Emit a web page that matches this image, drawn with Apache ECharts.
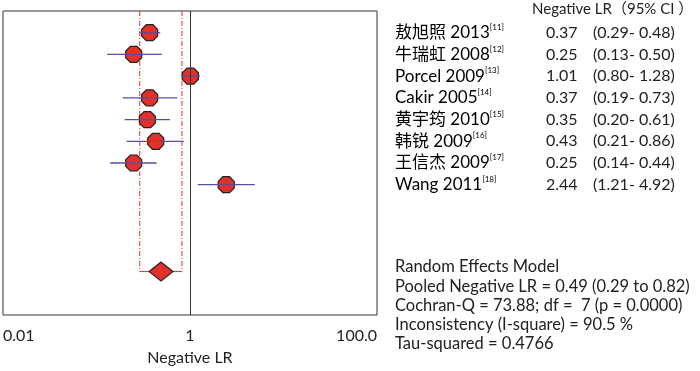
<!DOCTYPE html>
<html><head><meta charset="utf-8">
<script src="https://cdn.jsdelivr.net/npm/echarts@6/dist/echarts.min.js"></script>
<style>html,body{margin:0;padding:0;background:#fff}#c{width:700px;height:371px}</style>
</head><body><div id="c"></div>
<script>
const studies = ['敖旭照 2013','牛瑞虹 2008','Porcel 2009','Cakir 2005','黄宇筠 2010','韩锐 2009','王信杰 2009','Wang 2011'];
const refs = ['[11]','[12]','[13]','[14]','[15]','[16]','[17]','[18]'];
const lr = [0.37,0.25,1.01,0.37,0.35,0.43,0.25,2.44];
const lo = [0.29,0.13,0.80,0.19,0.20,0.21,0.14,1.21];
const hi = [0.48,0.50,1.28,0.73,0.61,0.86,0.44,4.92];
const pooled = 0.49, pooledLo = 0.29, pooledHi = 0.82;
const xTicks = {min:0.01, mid:1, max:100};
const xTickLabels = ['0.01','1','100.0'];
const header = 'Negative LR（95% CI ）';
const summary = ['Random Effects Model','Pooled Negative LR = 0.49 (0.29 to 0.82)','Cochran-Q = 73.88; df =  7 (p = 0.0000)','Inconsistency (I-square) = 90.5 %','Tau-squared = 0.4766'];

const FONT = 'Lato, "Noto Sans CJK SC", sans-serif';
const RED = '#e4302a', PURPLE = '#5b4c9f';
const rows = lr.map((v,i)=>i+1);
const pooledRow = 12;
const chart = echarts.init(document.getElementById('c'));
const octagon = 'path://M-0.414,-1L0.414,-1L1,-0.414L1,0.414L0.414,1L-0.414,1L-1,0.414L-1,-0.414Z';

function near(a,b){return Math.abs(Math.log10(a)-Math.log10(b))<1e-6;}

chart.setOption({
  animation:false,
  grid:{left:1,right:323,top:11,bottom:49,show:true,borderColor:'#333',borderWidth:1,backgroundColor:'transparent'},
  xAxis:{type:'log',logBase:10,min:xTicks.min,max:xTicks.max,
    axisLine:{show:false},axisTick:{show:false},splitLine:{show:false},
    axisLabel:{color:'#222',fontFamily:FONT,fontSize:16,margin:13,showMinLabel:true,showMaxLabel:true,
      alignMinLabel:'left',alignMaxLabel:'right',
      formatter:v=>near(v,xTicks.min)?xTickLabels[0]:near(v,xTicks.mid)?xTickLabels[1]:near(v,xTicks.max)?xTickLabels[2]:''},
    name:'Negative LR',nameLocation:'middle',nameGap:35,nameTextStyle:{color:'#222',fontFamily:FONT,fontSize:16}},
  yAxis:{type:'value',min:0,max:14,inverse:true,show:false},
  series:[
    {type:'scatter',data:lr.map((v,i)=>[v,rows[i]]),symbol:octagon,symbolSize:16,
      itemStyle:{color:RED,opacity:1,borderColor:'#222',borderWidth:1.2},z:3,
      markLine:{silent:true,symbol:'none',label:{show:false},lineStyle:{color:'#333',type:'solid',width:1},data:[{xAxis:1}]}},
    {type:'custom',z:4,data:lo.map((v,i)=>[lo[i],hi[i],rows[i]]),
      renderItem:(p,api)=>{const a=api.coord([api.value(0),api.value(2)]),b=api.coord([api.value(1),api.value(2)]);
        return {type:'line',shape:{x1:a[0],y1:a[1],x2:b[0],y2:b[1]},style:{stroke:PURPLE,lineWidth:1.3}};}},
    {type:'line',z:2,symbol:'none',data:[[pooledLo,0],[pooledLo,pooledRow]],lineStyle:{color:RED,width:1,type:[5,2,1,2]}},
    {type:'line',z:2,symbol:'none',data:[[pooledHi,0],[pooledHi,pooledRow]],lineStyle:{color:RED,width:1,type:[5,2,1,2]}},
    {type:'line',z:2,symbol:'none',data:[[pooledLo,pooledRow],[pooledHi,pooledRow]],lineStyle:{color:RED,width:1}},
    {type:'scatter',z:5,data:[[pooled,pooledRow]],symbol:'diamond',symbolSize:[24,19],itemStyle:{color:RED,opacity:1,borderColor:'#222',borderWidth:1.2}}
  ]
});

const g=[];
const ts={fill:'#222',fontFamily:FONT,fontSize:16};
g.push({type:'text',left:532,top:2,style:Object.assign({},ts,{text:header,fontSize:15})});
rows.forEach((r,i)=>{
  const y=chart.convertToPixel({gridIndex:0},[1,r])[1];
  g.push({type:'text',x:395,y:y,style:{rich:{a:{fontFamily:FONT,fontSize:17,color:'#222'},s:{fontFamily:FONT,fontSize:8,color:'#222',verticalAlign:'top',padding:[0,0,11,0]}},text:'{a|'+studies[i]+'}{s|'+refs[i]+'}',verticalAlign:'middle'}});
  g.push({type:'text',x:546,y:y,style:Object.assign({},ts,{text:lr[i].toFixed(2),verticalAlign:'middle'})});
  g.push({type:'text',x:593,y:y,style:Object.assign({},ts,{text:'('+lo[i].toFixed(2)+'- '+hi[i].toFixed(2)+')',verticalAlign:'middle'})});
});
summary.forEach((s,i)=>{
  g.push({type:'text',x:395,y:267+i*19.2,style:Object.assign({},ts,{text:s,verticalAlign:'middle',fontSize:16.5})});
});
chart.setOption({graphic:g});
</script></body></html>
